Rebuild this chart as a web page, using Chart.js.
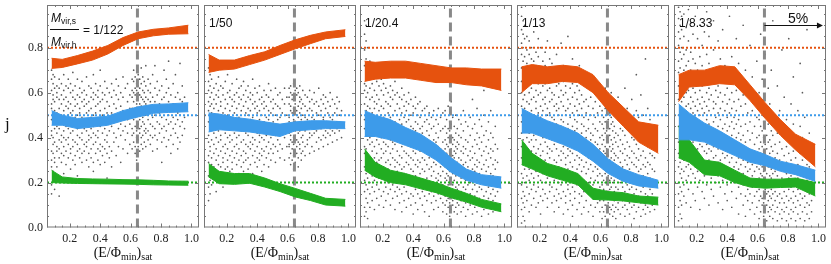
<!DOCTYPE html>
<html>
<head>
<meta charset="utf-8">
<script src="https://cdn.jsdelivr.net/npm/chart.js@4.4.1/dist/chart.umd.min.js"></script>
<style>
    body { margin: 0; background: #fff; }
    #wrap { position: relative; width: 831px; height: 264px; overflow: hidden; }
    #wrap canvas { position: absolute; top: 0; }
    .lbl { position: absolute; font-family: "Liberation Sans", Arial, sans-serif; font-size: 12px; color: #111; white-space: nowrap; line-height: 1; }
    .lbl sub { font-size: 8.5px; vertical-align: -2px; }
    .ax { position: absolute; font-family: "Liberation Serif", "DejaVu Serif", serif; font-size: 14px; color: #111; white-space: nowrap; line-height: 1; text-align: center; }
    .ax sub { font-size: 10px; vertical-align: -3px; }
    .tk { position: absolute; font-family: "Liberation Serif", "DejaVu Serif", serif; font-size: 12px; color: #222; line-height: 1; text-align: center; width: 24px; z-index: 2; }
</style>
</head>
<body>
<div id="wrap"></div>
<script>
// axis ticks and panel labels
const xTicks = [0.2, 0.4, 0.6, 0.8, 1.0];
const yTicks = [0.0, 0.2, 0.4, 0.6, 0.8];
const ratios = ["1/50", "1/20.4", "1/13", "1/8.33"];   // panels 2-5 (panel 1 gets the full fraction)
const refLevels = [0.8, 0.5, 0.2];                      // orange, blue, green dotted lines
const eCut = 0.645;                                     // dashed vertical line
const arrowY = 0.9, arrowEnd = 1.03;                    // "5%" arrow in last panel

// bands: lower / upper edge per panel, sampled at bandX
const bandX = [0.08, 0.15, 0.25, 0.35, 0.45, 0.55, 0.65, 0.75, 0.85, 0.98];
const orangeLo = [
    [0.708, 0.712, 0.728, 0.745, 0.772, 0.81, 0.84, 0.853, 0.86, 0.862],
    [0.69, 0.70, 0.705, 0.725, 0.745, 0.77, 0.795, 0.818, 0.84, 0.85],
    [0.65, 0.66, 0.665, 0.665, 0.655, 0.645, 0.645, 0.635, 0.63, 0.61],
    [0.60, 0.64, 0.64, 0.65, 0.645, 0.60, 0.52, 0.45, 0.38, 0.33],
    [0.56, 0.625, 0.63, 0.64, 0.635, 0.565, 0.485, 0.41, 0.345, 0.27]
];
const orangeHi = [
    [0.753, 0.748, 0.765, 0.785, 0.81, 0.845, 0.87, 0.882, 0.888, 0.90],
    [0.77, 0.745, 0.745, 0.765, 0.782, 0.81, 0.835, 0.855, 0.87, 0.88],
    [0.74, 0.735, 0.74, 0.74, 0.73, 0.72, 0.71, 0.71, 0.705, 0.705],
    [0.715, 0.725, 0.715, 0.722, 0.715, 0.68, 0.60, 0.535, 0.47, 0.455],
    [0.68, 0.70, 0.70, 0.72, 0.715, 0.635, 0.555, 0.48, 0.415, 0.37]
];
const blueLo = [
    [0.455, 0.455, 0.44, 0.447, 0.455, 0.475, 0.492, 0.508, 0.512, 0.515],
    [0.425, 0.435, 0.43, 0.425, 0.415, 0.405, 0.43, 0.435, 0.44, 0.44],
    [0.405, 0.405, 0.39, 0.365, 0.34, 0.30, 0.245, 0.21, 0.19, 0.175],
    [0.42, 0.42, 0.395, 0.37, 0.34, 0.295, 0.24, 0.205, 0.185, 0.175],
    [0.39, 0.39, 0.38, 0.35, 0.32, 0.29, 0.275, 0.25, 0.235, 0.205]
];
const blueHi = [
    [0.52, 0.50, 0.485, 0.49, 0.495, 0.52, 0.537, 0.548, 0.55, 0.555],
    [0.51, 0.505, 0.49, 0.482, 0.47, 0.46, 0.47, 0.475, 0.475, 0.47],
    [0.52, 0.50, 0.48, 0.445, 0.415, 0.37, 0.31, 0.26, 0.235, 0.225],
    [0.53, 0.505, 0.475, 0.45, 0.42, 0.37, 0.305, 0.26, 0.235, 0.21],
    [0.55, 0.51, 0.465, 0.43, 0.39, 0.35, 0.325, 0.295, 0.28, 0.255]
];
const greenLo = [
    [0.20, 0.198, 0.196, 0.195, 0.194, 0.193, 0.192, 0.19, 0.189, 0.188],
    [0.225, 0.195, 0.192, 0.197, 0.18, 0.16, 0.136, 0.12, 0.10, 0.095],
    [0.255, 0.225, 0.20, 0.19, 0.172, 0.155, 0.132, 0.113, 0.09, 0.07],
    [0.28, 0.26, 0.23, 0.21, 0.19, 0.125, 0.122, 0.118, 0.11, 0.10],
    [0.31, 0.29, 0.235, 0.23, 0.20, 0.18, 0.175, 0.178, 0.18, 0.14]
];
const greenHi = [
    [0.255, 0.225, 0.218, 0.216, 0.215, 0.213, 0.212, 0.21, 0.207, 0.206],
    [0.285, 0.25, 0.24, 0.24, 0.22, 0.195, 0.174, 0.152, 0.13, 0.125],
    [0.35, 0.29, 0.255, 0.24, 0.22, 0.20, 0.175, 0.152, 0.125, 0.105],
    [0.39, 0.33, 0.285, 0.265, 0.24, 0.175, 0.16, 0.155, 0.14, 0.135],
    [0.45, 0.39, 0.30, 0.29, 0.255, 0.22, 0.215, 0.215, 0.22, 0.20]
];

// scatter clouds, in hundredths: each row is x, then the j values seen at that x
const scatter1 = [
    [8,15,19,27,30,34,41,43,48,53,55,61,66,70],[9,22,25,33,37,40,46,50,57,59,64,68],[10,17,29,31,38,44,47,52,56,62,67],
    [11.5,27,34,36,42,45,51,58,60,63],[13,14,31,35,39,44,48,53,57,62,66],[14.5,29,33,38,41,46,50,55,59,64],
    [16,24,32,36,40,43,49,52,57,61,68],[17.5,28,34,39,45,47,54,58,63],[19,31,37,40,44,50,53,56,62,66],
    [20.5,26,33,35,42,46,51,55,60,64],[22,30,36,39,43,48,52,58,61,69],[23.5,28,32,38,45,49,54,57,63],
    [25,23,34,37,41,44,50,55,59,66],[26.5,31,35,40,47,51,53,58,62],[28,29,33,39,42,46,49,56,60,65],
    [29.5,20,34,37,44,48,54,57,61],[31,30,36,38,43,47,51,55,59,67],[32.5,27,33,39,41,46,52,56,63],
    [34,31,35,40,44,49,53,58,62],[35.5,25,29,37,42,45,50,57,60,68],[37,33,38,41,47,51,54,59,64],
    [38.5,30,35,40,43,48,55,58,61],[40,28,34,37,45,49,52,56,63,70],[41.5,32,36,42,46,50,57,60],
    [43,29,35,39,44,48,53,59,65],[44.5,22,33,38,41,47,51,56,62],[46,31,36,43,49,54,60],[47.5,27,34,45,51,58,64],
    [49,38,42,50,55,61],[50.5,32,40,47,53,59,66],[52,36,44,49,57,63],[53.5,29,41,46,54,60],[55,35,43,52,58,67],
    [56.5,39,45,50,62],[58,33,42,48,56,64],[59.5,37,46,53,59],
    [61,35,41,44,50,53,58,61,66],[62,38,42,48,51,56,60,65,70],[63,33,36,45,49,52,59,62,67],[64,30,40,43,47,55,57,61,64],
    [65,36,39,46,51,53,60,63,68],[66,34,42,44,48,55,59,62,66],[67,37,40,45,52,54,58,64,71],[68,35,41,47,49,53,57,61,67],
    [69,38,43,46,51,56,60,65],[70,36,42,44,50,55,58,63,72],[71.5,39,43,48,53,57,61,66],[73,37,41,46,51,56,60,64],
    [74.5,34,40,45,49,53,58,68],[76,41,44,50,56,62,72],[77.5,35,39,47,52,59,65],[79,42,46,51,55,61],
    [80.5,29,38,44,49,57,63],[82,40,45,53,58,70],[83.5,36,43,48,54,60,66],[85,39,46,50,56,62,74],[86.5,33,41,47,52,59],
    [88,37,44,49,55,64],[89.5,42,46,53,58,68],[91,35,40,48,51,60],[92.5,38,45,50,57,73],[94,41,47,52,56,63],[95.5,44,49,58]
];
const scatter2 = [
    [8,12,18,23,29,32,38,41,47,52,56,61,65,71],[9,15,21,26,34,36,43,49,54,58,63,68],[10,19,24,28,31,39,45,51,55,60,66],
    [11.5,22,27,33,37,42,46,53,57,62],[13,16,25,30,35,40,44,50,55,59,64],[14.5,21,28,32,38,43,47,52,58,61,67],
    [16,24,27,34,39,41,48,54,56,63],[17.5,18,29,31,36,44,49,51,59,62],[19,23,26,33,37,42,46,53,57,65],
    [20.5,27,30,35,40,45,50,55,60,68],[22,20,25,32,38,41,47,52,58,61],[23.5,26,29,34,39,44,48,54,57,64],
    [25,22,31,36,42,45,51,56,59],[26.5,28,33,37,40,46,50,53,60,66],[28,24,30,35,41,44,49,55,58,62],
    [29.5,27,32,38,43,47,52,57,63],[31,25,29,34,39,45,48,54,59,65],[32.5,30,33,37,42,46,51,56,61],
    [34,26,31,36,41,44,50,53,58,63],[35.5,28,35,38,43,48,52,57,60],[37,24,32,37,40,45,49,55,59,66],
    [38.5,29,34,39,44,47,53,56,62],[40,27,31,36,42,46,51,54,60],[41.5,30,33,38,41,48,52,57,63],
    [43,25,32,35,40,44,50,55,58],[44.5,28,34,39,43,47,53,56,61],[46,31,36,41,45,49,54,59],[47.5,27,33,38,44,48,52,58,64],
    [49,30,35,40,46,51,56,61],[50.5,33,37,43,47,53,57],[52,29,36,41,45,50,55,62],[53.5,34,39,44,48,54,59],
    [55,31,37,42,49,53,60],[56.5,35,44,51,57],[58,30,40,46,55,62],[59.5,36,43,50,58],
    [61,31,36,37,42,47,49,55,58,62],[62,28,33,39,41,45,52,54,60,63],[63,30,35,38,44,46,51,57,59],[64,26,32,37,40,48,50,53,58,64],
    [65,29,34,41,43,47,55,57,61],[66,33,36,39,45,50,52,59,62],[67,27,31,38,42,46,49,54,60],[68,35,37,43,44,51,56,58,63],
    [69,30,33,40,46,48,53,57],[70,34,38,41,45,50,55,61],[71.5,32,36,43,47,49,54,59],[73,37,39,44,48,52,58],
    [74.5,33,40,42,47,53,56,61],[76,36,41,45,49,52,57],[77.5,34,42,44,48,55,60],[79,38,43,46,51,56],
    [80.5,35,40,47,50,54,62],[82,39,44,45,52,57],[83.5,36,41,48,49,55,59],[85,40,43,47,53,58],[86.5,37,42,46,51,56],
    [88,41,44,49,54,60],[89.5,38,43,48,50,57],[91,42,45,51,55],[92.5,39,44,47,53,58],[94,43,46,50,56],[95.5,40,45,52]
];
const scatter3 = [
    [8,5,9,16,21,27,33,36,44,48,55,61,64,72,79,86,92],[9,7,13,19,24,30,35,41,46,52,58,63,69,75,83,90],
    [10,4,11,17,22,28,32,39,43,50,54,60,67,71,80],[11.5,9,15,20,26,31,37,40,47,53,57,62,66,74],
    [13,12,18,23,27,34,38,45,49,51,58,64,70],[14.5,8,16,21,25,31,36,42,46,53,56,61,68],[16,13,19,24,29,33,39,44,48,55,59,65],
    [17.5,10,17,22,28,30,37,41,47,52,57,63,70],[19,14,20,25,31,35,40,46,50,54,61,66],[20.5,9,16,23,27,33,38,43,49,53,59,64],
    [22,12,18,21,29,34,37,45,48,56,62],[23.5,15,20,26,30,36,41,44,51,55,60,67],[25,10,17,24,28,33,39,42,49,54,58,63],
    [26.5,13,19,22,31,35,38,46,50,57,61],[28,8,16,21,27,30,37,43,47,52,59,65],[29.5,14,18,25,29,34,40,45,50,55,60],
    [31,11,17,23,28,32,39,42,48,53,58],[32.5,7,15,20,26,31,36,41,46,51,57,62],[34,12,18,24,27,34,38,44,49,54,59],
    [35.5,9,16,21,29,33,37,43,47,52,56],[37,13,19,23,28,32,39,41,48,55,60],[38.5,10,15,22,26,31,36,42,45,50,57],
    [40,6,14,20,25,30,34,40,44,51,54],[41.5,11,17,23,28,33,37,43,47,53,58],[43,8,15,19,27,30,36,41,46,50,55],
    [44.5,13,18,24,29,34,38,44,49,56],[46,10,16,21,26,31,35,42,45,52],[47.5,7,14,20,25,30,36,40,47,53],
    [49,12,17,22,28,33,38,43,48,54],[50.5,5,15,19,26,31,35,41,46,51],[52,11,16,23,27,32,37,44,49],
    [53.5,8,14,20,25,29,34,39,45,52],[55,12,18,22,28,33,38,42,48],[56.5,9,15,21,24,30,36,40,46,53],
    [58,13,17,23,27,32,35,43,49],[59.5,7,11,19,25,29,34,38,44,51],
    [61,10,14,18,22,27,30,35,39,45,52],[62,6,12,16,21,24,29,33,37,42,48],[63,9,13,19,23,26,31,36,40,44,54],
    [64,5,11,15,20,25,28,34,38,43,47],[65,8,14,17,22,27,30,35,41,46,56],[66,10,12,19,24,26,32,37,40,49],
    [67,7,13,16,21,28,31,34,39,45],[68,9,15,18,23,27,33,36,42,50],[69,6,11,17,20,25,29,35,38,44],
    [70,10,14,19,24,28,31,37,41,48],[71.5,7,12,16,22,26,30,34,40,46],[73,9,15,18,23,28,33,36,43,52],
    [74.5,5,11,17,21,25,29,35,39,47],[76,8,13,19,24,27,32,38,45],[77.5,10,15,20,23,30,34,41,49],
    [79,6,12,17,22,26,31,36,44,57],[80.5,9,14,19,25,28,33,39,46],[82,7,11,16,21,27,30,37,42,53],
    [83.5,10,13,18,24,29,35,40,48],[85,5,12,17,22,26,32,38,45],[86.5,8,14,20,23,28,34,41,50,61],
    [88,11,16,19,25,30,36,43],[89.5,6,13,18,22,27,33,39,47],[91,9,15,21,24,31,35,42,52],[92.5,7,12,17,23,28,34,40],
    [94,10,14,20,26,30,37,45],[95.5,8,16,22,29,35]
];
const scatter4 = [
    [8,2,8,13,19,24,31,36,42,47,54,60,65,71,77,82,88,94,98],[9,5,11,16,22,28,33,39,45,50,57,62,68,74,80,86,92],
    [10,3,9,14,20,26,30,37,43,48,53,59,66,70,76,84,90],[11.5,12,18,23,29,35,40,46,51,56,63,67,73,79,85],
    [13,7,15,21,26,32,38,42,49,55,60,64,71,77,83],[14.5,10,17,24,28,34,39,45,52,57,62,69,75,80],
    [16,13,19,22,30,36,41,47,50,58,65,68,74,87],[17.5,9,16,25,27,33,39,44,53,56,61,67,72,78],
    [19,11,18,23,31,35,42,48,51,59,64,70,76,84],[20.5,6,14,21,26,32,37,43,49,54,60,66,71,80],
    [22,12,17,24,29,34,40,46,52,57,63,69,74],[23.5,15,20,27,30,38,42,47,55,58,64,72,78],
    [25,9,13,22,28,33,36,44,50,53,61,66,70,83],[26.5,16,19,25,31,35,41,45,51,56,62,68,75],
    [28,11,18,23,27,34,39,43,49,57,60,67,73],[29.5,7,14,21,26,30,37,44,48,54,59,65,71],
    [31,12,17,24,29,35,40,46,52,55,63,69,77],[32.5,9,15,20,27,32,38,42,50,53,58,64,70],
    [34,13,19,23,30,34,41,45,48,56,61,67,82],[35.5,6,16,22,25,33,36,43,47,54,59,65,72],
    [37,11,14,21,28,31,39,42,50,52,60,63,68],[38.5,8,17,19,26,32,35,44,46,53,57,66,85],
    [40,12,15,23,29,34,38,41,49,55,62,70],[41.5,5,10,18,24,27,33,40,45,51,58,64,75],
    [43,13,16,22,30,35,39,43,48,54,60,67],[44.5,8,19,21,26,32,37,44,47,52,57,63],
    [46,11,15,23,28,31,36,41,50,55,61,72],[47.5,6,14,18,25,30,34,42,46,53,59],
    [49,9,16,21,27,33,38,45,49,56,64],[50.5,12,19,24,29,35,40,43,51,57],[52,7,15,20,26,31,37,44,48,54,62],
    [53.5,10,17,22,28,33,39,42,50,58],[55,5,13,19,25,30,36,41,46,53,66],[56.5,9,16,21,27,32,38,44,49,56],
    [58,11,14,23,26,34,37,43,51,60],[59.5,7,12,18,24,29,35,40,47,54],
    [61,4,9,15,19,23,28,32,37,41,46,52,58],[62,7,12,17,21,26,30,34,39,44,49,55],[63,5,10,14,20,24,27,33,36,42,47,53,62],
    [64,8,13,16,22,25,31,35,40,43,50,56],[65,3,11,15,19,23,29,32,38,45,48,58],[66,6,9,17,21,27,30,36,41,44,51,54],
    [67,8,13,18,22,25,31,34,39,46,49,60],[68,5,10,15,20,26,28,35,37,43,47,52],[69,7,12,16,21,24,30,33,40,45,55],
    [70,4,9,14,18,23,27,32,38,42,50],[71.5,8,11,17,22,25,31,36,41,48,58],[73,6,13,15,20,26,29,34,39,44,52],
    [74.5,9,12,18,23,27,33,37,43,49],[76,5,10,16,21,25,30,35,41,47,62],[77.5,8,14,19,22,28,32,38,45,53],
    [79,6,11,17,21,26,31,36,43,50],[80.5,9,13,18,24,29,34,40,46,57],[82,4,10,15,20,23,28,33,39,48],
    [83.5,7,12,17,22,27,31,37,44,52,68],[85,9,14,19,25,30,35,42,49],[86.5,5,11,16,21,26,32,38,46,59],
    [88,8,13,18,23,28,34,41,50],[89.5,6,10,15,20,27,31,39,44,75],[91,9,14,19,24,29,36,42,53],
    [92.5,7,12,17,22,28,33,40,48],[94,10,15,21,26,32,38,45],[95.5,8,13,19,25,31]
];
const scatter5 = [
    [8,3,9,15,20,27,33,38,45,50,57,63,69,74,81,87,93,98],[9,6,12,18,24,29,36,41,47,53,60,66,71,78,84,90,96],
    [10,4,10,16,22,26,31,39,44,51,56,62,68,75,80,88,94],[11.5,14,19,25,30,35,42,46,52,58,64,70,77,85,95],
    [13,11,21,27,33,37,43,49,54,60,65,72,79,89],[14.5,17,23,28,32,39,44,50,55,61,67,74,83,97],
    [16,9,20,26,31,36,41,47,53,58,63,70,78,91],[17.5,15,24,29,34,38,45,51,56,62,68,75,86],
    [19,12,22,27,33,40,43,49,54,60,66,73,80,94],[20.5,18,25,30,35,41,47,52,57,64,70,84],
    [22,8,21,28,32,37,44,50,55,61,67,76,90],[23.5,16,26,31,36,42,46,53,58,63,72,81],
    [25,13,23,29,34,39,45,51,56,65,69,87],[26.5,19,27,33,37,43,48,54,60,66,77,96],
    [28,10,24,30,35,40,46,52,57,62,73,85],[29.5,17,22,28,34,38,44,50,59,64,70],
    [31,14,25,31,36,41,47,53,56,67,79,92],[32.5,20,27,32,39,43,49,55,61,71],[34,11,23,29,35,40,45,51,58,63,83],
    [35.5,18,26,30,37,42,48,53,60,68,75],[37,8,21,28,33,38,44,50,56,65,88],[38.5,15,24,31,36,41,46,52,59,72],
    [40,12,19,27,32,39,43,49,55,62,80],[41.5,22,29,34,37,45,51,57,66,94],[43,9,16,25,31,36,41,47,53,60,76],
    [44.5,20,27,33,38,44,49,56,69],[46,13,23,29,35,40,46,52,61,84],[47.5,6,18,26,31,37,42,48,57,73],
    [49,15,21,28,34,39,45,54,65],[50.5,10,19,24,30,36,41,50,59,90],[52,5,14,22,27,33,38,46,55,70],
    [53.5,12,17,25,29,35,43,51,62],[55,8,15,20,26,32,39,47,58,81],[56.5,11,18,23,28,34,42,52,67],
    [58,6,14,21,25,31,37,45,56],[59.5,9,16,19,27,33,40,49,74],
    [61,4,12,17,22,26,30,35,41,48,60],[62,7,14,19,24,28,33,38,45,53,86],[63,10,13,18,23,27,31,36,43,50,66],
    [64,5,11,16,21,25,29,34,40,47,57],[65,8,14,17,22,26,32,37,44,52,77],[66,3,10,15,20,24,30,35,41,49],
    [67,7,12,16,21,27,31,38,46,62],[68,5,9,14,19,23,28,33,39,55],[69,8,13,17,22,26,30,36,43,70],
    [70,4,10,15,18,24,29,34,41,51,92],[71.5,7,12,16,21,25,31,37,47],[73,3,9,14,19,23,27,33,42,63],
    [74.5,6,11,15,20,26,30,38,52],[76,4,8,13,18,22,28,35,45,79],[77.5,7,11,16,21,25,32,40,58],
    [79,3,9,14,19,24,29,36,48],[80.5,6,12,17,22,27,33,44,84],[82,4,8,13,18,23,30,39,55],
    [83.5,7,11,16,21,26,34,46,67],[85,3,9,14,19,24,31,41],[86.5,6,12,17,22,28,37,52],[88,4,10,15,20,26,33,45,73],
    [89.5,7,13,18,23,30,40,60],[91,3,9,14,19,25,35,49],[92.5,6,11,16,21,28,38,88],[94,4,10,15,20,27,42],[95.5,7,12,18,24,33]
];
const scatters = [scatter1, scatter2, scatter3, scatter4, scatter5];

const ORANGE = "#e6520e", BLUE = "#3d9bea", GREEN = "#22ad22";
const X_MIN = 0.05, X_MAX = 1.05, Y_MIN = 0, Y_MAX = 0.99;
const PANEL_LEFT = [47, 204, 360, 517, 674], PANEL_W = 152;
const SERIF = "'Liberation Serif', 'DejaVu Serif', serif";

const wrap = document.getElementById("wrap");

function addDiv(cls, html, left, top, extra) {
    const d = document.createElement("div");
    d.className = cls;
    d.innerHTML = html;
    d.style.left = left + "px";
    d.style.top = top + "px";
    if (extra) Object.assign(d.style, extra);
    wrap.appendChild(d);
}

function cloudPoints(cols) {
    const pts = [];
    cols.forEach(([x, ...ys]) => ys.forEach(y => pts.push({ x: x / 100, y: y / 100 })));
    return pts;
}

function band(lo, hi, color) {
    const common = { showLine: true, borderColor: color, backgroundColor: color, borderWidth: 1, pointRadius: 0, order: 0 };
    return [
        { ...common, data: bandX.map((x, i) => ({ x, y: lo[i] })), fill: false },
        { ...common, data: bandX.map((x, i) => ({ x, y: hi[i] })), fill: "-1" }
    ];
}

function refLine(level, color) {
    return { data: [{ x: X_MIN, y: level }, { x: X_MAX, y: level }], showLine: true, borderColor: color,
        borderWidth: 2, borderDash: [2, 2], pointRadius: 0, order: 1 };
}

// frame with inward ticks on all four sides, and the "5%" arrow
const framePlugin = {
    id: "frame",
    afterDraw(chart, args, opts) {
        const { ctx, chartArea: a, scales: { x, y } } = chart;
        ctx.save();
        ctx.strokeStyle = "#777";
        ctx.lineWidth = 1;
        ctx.strokeRect(a.left + 0.5, a.top + 0.5, a.width - 1, a.height - 1);
        ctx.beginPath();
        for (let k = 1; k <= 20; k++) {
            const px = Math.round(x.getPixelForValue(k * 0.05)) + 0.5;
            const len = k % 4 === 0 ? 4 : 2;
            ctx.moveTo(px, a.bottom); ctx.lineTo(px, a.bottom - len);
            ctx.moveTo(px, a.top); ctx.lineTo(px, a.top + len);
        }
        for (let k = 1; k <= 19; k++) {
            const py = Math.round(y.getPixelForValue(k * 0.05)) + 0.5;
            const len = k % 4 === 0 ? 4 : 2;
            ctx.moveTo(a.left, py); ctx.lineTo(a.left + len, py);
            ctx.moveTo(a.right, py); ctx.lineTo(a.right - len, py);
        }
        ctx.stroke();
        if (opts.arrow) {
            const x0 = x.getPixelForValue(eCut), x1 = x.getPixelForValue(arrowEnd), py = Math.round(y.getPixelForValue(arrowY)) + 0.5;
            ctx.strokeStyle = "#111";
            ctx.fillStyle = "#111";
            ctx.beginPath(); ctx.moveTo(x0, py); ctx.lineTo(x1 - 4, py); ctx.stroke();
            ctx.beginPath(); ctx.moveTo(x1, py); ctx.lineTo(x1 - 6, py - 3); ctx.lineTo(x1 - 6, py + 3); ctx.closePath(); ctx.fill();
        }
        ctx.restore();
    }
};

const charts = [];

function makePanel(p) {
    const first = p === 0;
    const left = first ? 0 : PANEL_LEFT[p];
    const width = (first ? PANEL_LEFT[0] : 0) + PANEL_W + 10;
    const canvas = document.createElement("canvas");
    canvas.width = width; canvas.height = 264;
    canvas.style.left = left + "px";
    canvas.style.width = width + "px"; canvas.style.height = "264px";
    wrap.appendChild(canvas);

    const datasets = [
        ...band(orangeLo[p], orangeHi[p], ORANGE),
        ...band(blueLo[p], blueHi[p], BLUE),
        ...band(greenLo[p], greenHi[p], GREEN),
        refLine(refLevels[0], ORANGE), refLine(refLevels[1], BLUE), refLine(refLevels[2], GREEN),
        { data: [{ x: eCut, y: Y_MIN }, { x: eCut, y: Y_MAX }], showLine: true, borderColor: "#888",
            borderWidth: 3, borderDash: [9, 5], pointRadius: 0, order: 2 },
        { data: cloudPoints(scatters[p]), pointRadius: 0.85, pointBackgroundColor: "#5a5a5a",
            pointBorderWidth: 0, order: 3 }
    ];

    const chart = new Chart(canvas, {
        type: "scatter",
        data: { datasets },
        plugins: [framePlugin],
        options: {
            responsive: false, animation: false, events: [],
            layout: { autoPadding: false, padding: { top: 5, right: 10, left: 0, bottom: 0 } },
            plugins: { legend: { display: false }, tooltip: { enabled: false }, frame: { arrow: p === 4 } },
            scales: {
                x: {
                    type: "linear", min: X_MIN, max: X_MAX,
                    grid: { display: false, drawTicks: false }, border: { display: false },
                    ticks: { display: false },
                    afterBuildTicks: s => { s.ticks = xTicks.map(v => ({ value: v })); },
                    afterFit: s => { s.height = 36.5; s.paddingLeft = 0; s.paddingRight = 0; }
                },
                y: {
                    type: "linear", min: Y_MIN, max: Y_MAX,
                    grid: { display: false, drawTicks: false }, border: { display: false },
                    ticks: { display: first, padding: 4, autoSkip: false, color: "#222", font: { family: SERIF, size: 12 }, callback: v => v.toFixed(1) },
                    afterBuildTicks: s => { s.ticks = yTicks.map(v => ({ value: v })); },
                    afterFit: s => { s.width = first ? PANEL_LEFT[0] : 0; s.paddingTop = 0; s.paddingBottom = 0; }
                }
            }
        }
    });
    charts.push({ chart, left });

    addDiv("ax", "(E/&Phi;<sub>min</sub>)<sub>sat</sub>", PANEL_LEFT[p], 246, { width: PANEL_W + "px" });
}

for (let p = 0; p < 5; p++) makePanel(p);

// x tick labels, placed from each chart's own x scale
charts.forEach(({ chart, left }) => {
    const sx = chart.scales.x;
    xTicks.forEach(v => addDiv("tk", v.toFixed(1), left + sx.getPixelForValue(v) - 12, sx.top + 4));
});

// panel labels
addDiv("lbl", "<i>M</i><sub>vir,s</sub>", 51, 12);
addDiv("lbl", "", 50, 29, { width: "29px", borderTop: "1px solid #111" });
addDiv("lbl", "<i>M</i><sub>vir,h</sub>", 51, 36);
addDiv("lbl", "= 1/122", 83, 24);
ratios.forEach((r, i) => addDiv("lbl", r, PANEL_LEFT[i + 1] + 5, 17));
addDiv("lbl", "5%", 788, 11, { fontSize: "14px" });

addDiv("ax", "j", 5, 115, { fontSize: "17px" });
</script>
</body>
</html>
